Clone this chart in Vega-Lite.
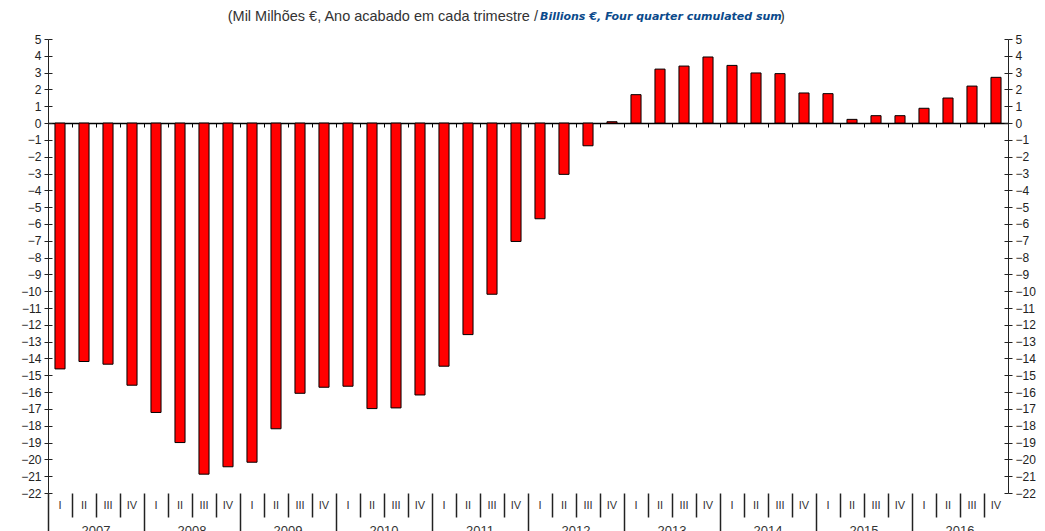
{
  "$schema": "https://vega.github.io/schema/vega-lite/v6.json",
  "width": 960,
  "height": 454,
  "autosize": {"type": "none"},
  "padding": {"left": 48, "top": 39, "right": 37, "bottom": 38},
  "background": "white",
  "config": {"view": {"stroke": null}, "font": "Liberation Sans"},
  "data": {
    "values": [
      {"period": "2007 I", "year": "2007", "quarter": "I", "value": -14.62},
      {"period": "2007 II", "year": "2007", "quarter": "II", "value": -14.18},
      {"period": "2007 III", "year": "2007", "quarter": "III", "value": -14.34},
      {"period": "2007 IV", "year": "2007", "quarter": "IV", "value": -15.59},
      {"period": "2008 I", "year": "2008", "quarter": "I", "value": -17.21},
      {"period": "2008 II", "year": "2008", "quarter": "II", "value": -19.0},
      {"period": "2008 III", "year": "2008", "quarter": "III", "value": -20.88},
      {"period": "2008 IV", "year": "2008", "quarter": "IV", "value": -20.44},
      {"period": "2009 I", "year": "2009", "quarter": "I", "value": -20.17},
      {"period": "2009 II", "year": "2009", "quarter": "II", "value": -18.18},
      {"period": "2009 III", "year": "2009", "quarter": "III", "value": -16.07},
      {"period": "2009 IV", "year": "2009", "quarter": "IV", "value": -15.71},
      {"period": "2010 I", "year": "2010", "quarter": "I", "value": -15.65},
      {"period": "2010 II", "year": "2010", "quarter": "II", "value": -16.98},
      {"period": "2010 III", "year": "2010", "quarter": "III", "value": -16.94},
      {"period": "2010 IV", "year": "2010", "quarter": "IV", "value": -16.17},
      {"period": "2011 I", "year": "2011", "quarter": "I", "value": -14.46},
      {"period": "2011 II", "year": "2011", "quarter": "II", "value": -12.58},
      {"period": "2011 III", "year": "2011", "quarter": "III", "value": -10.18},
      {"period": "2011 IV", "year": "2011", "quarter": "IV", "value": -7.04},
      {"period": "2012 I", "year": "2012", "quarter": "I", "value": -5.69},
      {"period": "2012 II", "year": "2012", "quarter": "II", "value": -3.05},
      {"period": "2012 III", "year": "2012", "quarter": "III", "value": -1.35},
      {"period": "2012 IV", "year": "2012", "quarter": "IV", "value": 0.08},
      {"period": "2013 I", "year": "2013", "quarter": "I", "value": 1.69},
      {"period": "2013 II", "year": "2013", "quarter": "II", "value": 3.21},
      {"period": "2013 III", "year": "2013", "quarter": "III", "value": 3.39},
      {"period": "2013 IV", "year": "2013", "quarter": "IV", "value": 3.93},
      {"period": "2014 I", "year": "2014", "quarter": "I", "value": 3.43},
      {"period": "2014 II", "year": "2014", "quarter": "II", "value": 2.98},
      {"period": "2014 III", "year": "2014", "quarter": "III", "value": 2.94},
      {"period": "2014 IV", "year": "2014", "quarter": "IV", "value": 1.79},
      {"period": "2015 I", "year": "2015", "quarter": "I", "value": 1.75},
      {"period": "2015 II", "year": "2015", "quarter": "II", "value": 0.22},
      {"period": "2015 III", "year": "2015", "quarter": "III", "value": 0.44},
      {"period": "2015 IV", "year": "2015", "quarter": "IV", "value": 0.44},
      {"period": "2016 I", "year": "2016", "quarter": "I", "value": 0.88},
      {"period": "2016 II", "year": "2016", "quarter": "II", "value": 1.49},
      {"period": "2016 III", "year": "2016", "quarter": "III", "value": 2.2},
      {"period": "2016 IV", "year": "2016", "quarter": "IV", "value": 2.72}
    ]
  },
  "layer": [
    {
      "mark": {"type": "bar", "fill": "#ff0000", "stroke": "#000000", "strokeWidth": 1, "width": {"band": 0.42}},
      "encoding": {
        "x": {
          "field": "period",
          "type": "nominal",
          "scale": {"paddingInner": 0, "paddingOuter": 0},
          "axis": {
            "orient": "bottom",
            "title": null,
            "domain": false,
            "labels": false,
            "bandPosition": 0,
            "tickColor": "#222222",
            "tickWidth": 1.5,
            "tickSize": {"condition": {"test": "indexof(datum.value, ' I') >= 0 && length(datum.value) === 6", "value": 40}, "value": 24}
          }
        },
        "y": {
          "field": "value",
          "type": "quantitative",
          "scale": {"domain": [-22, 5], "nice": false, "zero": false},
          "axis": {
            "orient": "left",
            "title": null,
            "grid": false,
            "values": [-22, -21, -20, -19, -18, -17, -16, -15, -14, -13, -12, -11, -10, -9, -8, -7, -6, -5, -4, -3, -2, -1, 0, 1, 2, 3, 4, 5],
            "tickSize": 4,
            "tickColor": "#222222",
            "domainColor": "#222222",
            "labelPadding": 3,
            "labelFontSize": 12,
            "labelColor": "#222222",
            "labelFont": "Liberation Sans",
            "labelOverlap": false
          }
        }
      }
    },
    {
      "mark": {"type": "point", "opacity": 0, "fillOpacity": 0, "strokeOpacity": 0},
      "encoding": {
        "x": {
          "field": "period",
          "type": "nominal",
          "axis": {
            "orient": "bottom",
            "title": null,
            "offset": -370,
            "bandPosition": 0,
            "labels": false,
            "tickSize": 4,
            "tickColor": "#000000",
            "domainColor": "#000000",
            "domainWidth": 1.5
          }
        },
        "y": {
          "field": "value",
          "type": "quantitative",
          "axis": {
            "orient": "right",
            "title": null,
            "grid": false,
            "values": [-22, -21, -20, -19, -18, -17, -16, -15, -14, -13, -12, -11, -10, -9, -8, -7, -6, -5, -4, -3, -2, -1, 0, 1, 2, 3, 4, 5],
            "tickSize": 4,
            "tickColor": "#222222",
            "domainColor": "#222222",
            "labelPadding": 3,
            "labelFontSize": 12,
            "labelColor": "#222222",
            "labelFont": "Liberation Sans",
            "labelOverlap": false
          }
        }
      }
    },
    {
      "mark": {"type": "point", "opacity": 0, "fillOpacity": 0, "strokeOpacity": 0},
      "encoding": {
        "x": {"field": "period", "type": "nominal", "axis": null},
        "y": {
          "field": "value",
          "type": "quantitative",
          "axis": {
            "orient": "left",
            "title": null,
            "grid": false,
            "domain": false,
            "labels": false,
            "values": [-22, -21, -20, -19, -18, -17, -16, -15, -14, -13, -12, -11, -10, -9, -8, -7, -6, -5, -4, -3, -2, -1, 0, 1, 2, 3, 4, 5],
            "tickSize": -4,
            "tickColor": "#222222"
          }
        }
      }
    },
    {
      "mark": {"type": "point", "opacity": 0, "fillOpacity": 0, "strokeOpacity": 0},
      "encoding": {
        "x": {"field": "period", "type": "nominal", "axis": null},
        "y": {
          "field": "value",
          "type": "quantitative",
          "axis": {
            "orient": "right",
            "title": null,
            "grid": false,
            "domain": false,
            "labels": false,
            "values": [-22, -21, -20, -19, -18, -17, -16, -15, -14, -13, -12, -11, -10, -9, -8, -7, -6, -5, -4, -3, -2, -1, 0, 1, 2, 3, 4, 5],
            "tickSize": -4,
            "tickColor": "#222222"
          }
        }
      }
    },
    {
      "mark": {"type": "text", "fontSize": 11, "baseline": "middle", "align": "center", "dy": 13, "color": "#333333", "font": "Liberation Sans"},
      "encoding": {
        "x": {"field": "period", "type": "nominal", "axis": null},
        "y": {"datum": -22, "axis": null},
        "text": {"field": "quarter"}
      }
    },
    {
      "transform": [{"filter": "datum.quarter === 'III'"}],
      "mark": {"type": "text", "fontSize": 13, "baseline": "middle", "align": "center", "dy": 38, "color": "#333333", "font": "Liberation Sans"},
      "encoding": {
        "x": {"field": "period", "type": "nominal", "bandPosition": 0, "axis": null},
        "y": {"datum": -22, "axis": null},
        "text": {"field": "year"}
      }
    },
    {
      "data": {"values": [{}]},
      "mark": {"type": "text", "text": "(Mil Milhões €, Ano acabado em cada trimestre / ", "fontSize": 14.5, "font": "Liberation Sans", "color": "#333333", "align": "right", "baseline": "middle", "dx": -2, "dy": -22},
      "encoding": {
        "x": {"datum": "2012 I", "axis": null},
        "y": {"datum": 5, "axis": null}
      }
    },
    {
      "data": {"values": [{}]},
      "mark": {"type": "text", "text": "Billions €, Four quarter cumulated sum", "fontSize": 11, "fontWeight": "bold", "fontStyle": "italic", "font": "DejaVu Sans", "color": "#0b4a8b", "align": "left", "baseline": "middle", "dy": -22},
      "encoding": {
        "x": {"datum": "2012 I", "axis": null},
        "y": {"datum": 5, "axis": null}
      }
    },
    {
      "data": {"values": [{}]},
      "mark": {"type": "text", "text": ")", "fontSize": 14.5, "font": "Liberation Sans", "color": "#333333", "align": "left", "baseline": "middle", "dy": -22},
      "encoding": {
        "x": {"datum": "2014 III", "axis": null},
        "y": {"datum": 5, "axis": null}
      }
    }
  ],
  "resolve": {"axis": {"x": "independent", "y": "independent"}}
}
